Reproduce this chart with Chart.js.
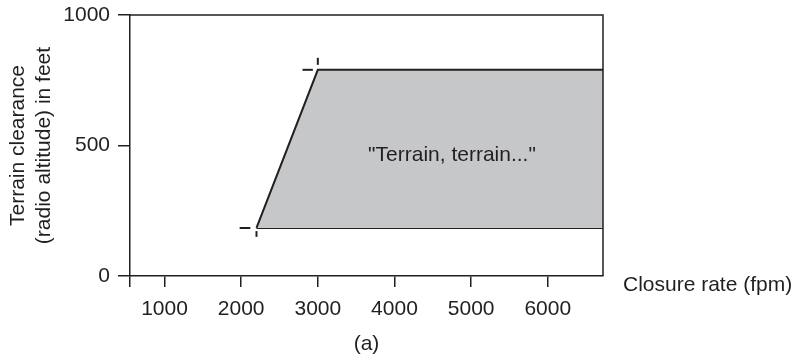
<!DOCTYPE html>
<html>
<head>
<meta charset="utf-8">
<script src="https://cdn.jsdelivr.net/npm/chart.js@4.4.1/dist/chart.umd.min.js"></script>
<style>
  html, body { margin: 0; background: #fff; }
</style>
</head>
<body>
<canvas id="gpws" width="797" height="358"></canvas>
<script>
// axes
const xRange = [550, 6720];
const yRange = [0, 1000];
const xTickValues = [1000, 2000, 3000, 4000, 5000, 6000];
const yTickValues = [0, 500, 1000];

// warning envelope (closure rate fpm vs radio altitude ft)
const envelopeRate = [2200, 3000, 6720];
const envelopeAlt = [184, 790, 790];
const floorAlt = 184;

// little cross marks at the two corners
const markHRate = [[1980, 2120], [2800, 2935]];
const markHAlt = [184, 790];
const markVRate = [2200, 3000];
const markVAlt = [[150, 172], [809, 836]];

const alertText = '"Terrain, terrain..."';
const alertAt = [4750, 462];

const ink = '#231f20';
const shade = '#c6c7c9';
const font = { family: "'Liberation Sans', Arial, sans-serif", size: 21 };

const toPoints = (xs, ys) => xs.map((x, i) => ({ x, y: ys[i] }));

const datasets = [
  {
    data: toPoints(envelopeRate, envelopeAlt),
    borderColor: ink,
    borderWidth: 2,
    backgroundColor: shade,
    fill: { value: floorAlt },
  },
  {
    data: toPoints([envelopeRate[0], envelopeRate[envelopeRate.length - 1]], [floorAlt, floorAlt]),
    borderColor: ink,
    borderWidth: 2,
    fill: false,
  },
];
markHRate.forEach((r, i) => {
  datasets.push({ data: toPoints(r, [markHAlt[i], markHAlt[i]]), borderColor: ink, borderWidth: 2, fill: false });
});
markVRate.forEach((r, i) => {
  datasets.push({ data: toPoints([r, r], markVAlt[i]), borderColor: ink, borderWidth: 2, fill: false });
});

const extras = {
  id: 'extras',
  afterDatasetsDraw(chart) {
    const { ctx, chartArea: a, scales: { x, y } } = chart;
    ctx.save();
    // frame top + right
    ctx.strokeStyle = ink;
    ctx.lineWidth = 1.5;
    ctx.beginPath();
    ctx.moveTo(a.left, a.top);
    ctx.lineTo(a.right, a.top);
    ctx.lineTo(a.right, a.bottom);
    ctx.stroke();

    ctx.fillStyle = ink;
    ctx.font = `${font.size}px ${font.family}`;
    ctx.textAlign = 'center';
    ctx.textBaseline = 'middle';
    ctx.fillText(alertText, x.getPixelForValue(alertAt[0]), y.getPixelForValue(alertAt[1]));

    ctx.textAlign = 'left';
    ctx.textBaseline = 'alphabetic';
    ctx.fillText('Closure rate (fpm)', a.right + 20, a.bottom + 15);
    ctx.restore();
  }
};

new Chart(document.getElementById('gpws'), {
  type: 'line',
  data: { datasets },
  options: {
    responsive: false,
    animation: false,
    layout: { padding: { top: 15, right: 194, left: 0, bottom: 0 } },
    elements: { point: { radius: 0 }, line: { tension: 0 } },
    plugins: { legend: { display: false }, tooltip: { enabled: false } },
    scales: {
      x: {
        type: 'linear',
        min: xRange[0],
        max: xRange[1],
        afterBuildTicks: s => { s.ticks = [xRange[0], ...xTickValues].map(v => ({ value: v })); },
        afterFit: s => { s.height = 82; },
        ticks: {
          color: ink, font, padding: 10, maxRotation: 0, autoSkip: false,
          callback: v => (xTickValues.includes(v) ? String(v) : ''),
        },
        grid: { drawOnChartArea: false, tickLength: 11, color: ink, lineWidth: 1.5 },
        border: { color: ink, width: 1.5 },
        title: { display: true, text: '(a)', color: ink, font: { ...font, lineHeight: 1.2 }, padding: { top: 0, bottom: 1 } },
      },
      y: {
        min: yRange[0],
        max: yRange[1],
        afterBuildTicks: s => { s.ticks = yTickValues.map(v => ({ value: v })); },
        afterFit: s => { s.width = 130; s.paddingTop = 0; s.paddingBottom = 0; },
        ticks: { color: ink, font, padding: 8, callback: v => String(v) },
        grid: { drawOnChartArea: false, tickLength: 12, color: ink, lineWidth: 1.5 },
        border: { color: ink, width: 1.5 },
        title: {
          display: true,
          text: ['Terrain clearance', '(radio altitude) in feet'],
          color: ink,
          font: { ...font, lineHeight: 1.2 },
          padding: { top: 6, bottom: 0 },
        },
      },
    },
  },
  plugins: [extras],
});
</script>
</body>
</html>
